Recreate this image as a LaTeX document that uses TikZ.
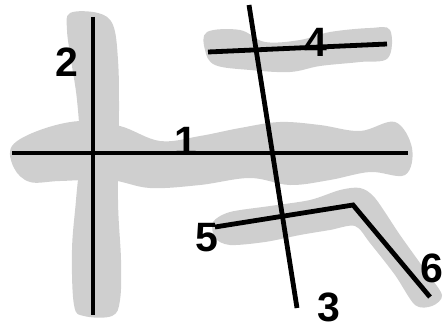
\documentclass[tikz,border=0pt]{standalone}
\usepackage{fontspec}
\setmainfont{Liberation Sans}
\usetikzlibrary{calc}

\tikzset{
  band/.style={fill=gray!38},
  stroke/.style={line width=4.8pt,black},
  num/.style={font=\fontsize{41}{43}\selectfont\bfseries,inner sep=0pt}
}

\begin{document}
\begin{tikzpicture}[x=1pt,y=-1pt]
  \useasboundingbox (0,0) rectangle (443,329);
  \fill[band] plot[smooth cycle,tension=0.6] coordinates {(70,13) (98,13) (113,25) (118,60) (119,110) (118,200) (121,260) (120,300) (112,316) (84,316) (74,305) (72,250) (76,200) (80,150) (77,100) (71,60) (67,30)};
  \fill[band] plot[smooth cycle,tension=0.6] coordinates {(12,146) (40,130) (80,121) (120,126) (160,141) (200,136) (240,128) (280,122) (320,125) (360,131) (395,122) (412,148) (405,175) (370,172) (330,180) (290,185) (250,178) (200,185) (150,188) (110,180) (60,181) (30,182) (14,168)};
  \fill[band] plot[smooth cycle,tension=0.6] coordinates {(207,32) (240,30) (265,42) (300,40) (330,32) (370,28) (390,30) (388,58) (360,62) (320,66) (290,72) (250,70) (215,65) (205,50)};
  \fill[band] plot[smooth cycle,tension=0.5] coordinates {(213,222) (230,212) (270,206) (310,200) (340,190) (360,188) (375,198) (400,235) (425,270) (442,295) (432,306) (415,305) (395,275) (370,243) (355,226) (330,230) (300,235) (265,242) (230,245) (215,238)};
  \coordinate (A1) at (12,153);
  \coordinate (B1) at (408,153);
  \coordinate (A2) at (93,17);
  \coordinate (B2) at (93,315);
  \coordinate (A3) at (249,5);
  \coordinate (B3) at (297,308);
  \coordinate (A4) at (208,52);
  \coordinate (B4) at (387,44);
  \coordinate (A5) at (215,227);
  \coordinate (K56) at (353,205);
  \coordinate (B6) at (430,297);
  \draw[stroke] (A1) -- (B1);
  \draw[stroke] (A2) -- (B2);
  \draw[stroke] (A3) -- (B3);
  \draw[stroke] (A4) -- (B4);
  \draw[stroke,line join=miter] (A5) -- (K56) -- (B6);
  \node[num] (L1) at (186,141) {1};
  \node[num] (L2) at (67,62) {2};
  \node[num] (L3) at (329,307) {3};
  \node[num] (L4) at (316,42) {4};
  \node[num] (L5) at (207,238) {5};
  \node[num] (L6) at (432,268) {6};
\end{tikzpicture}
\end{document}
